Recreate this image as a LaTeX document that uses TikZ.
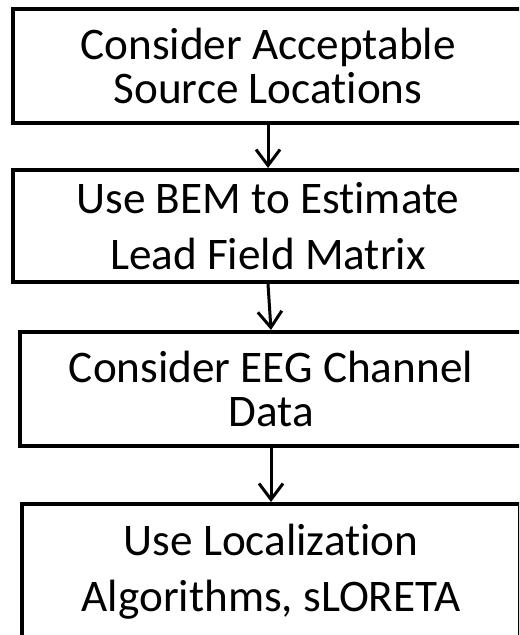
\documentclass[tikz,border=0pt]{standalone}
\usepackage{fontspec}
\setmainfont{Carlito}[Ligatures=NoCommon]
\usetikzlibrary{arrows.meta, positioning}

\begin{document}
\begin{tikzpicture}[
    x=0.5pt, y=-0.5pt,
    >={Straight Barb[length=8pt, width=12pt]},
    stepbox/.style={
        draw=black,
        line width=2pt,
        fill=white,
        align=center,
        inner sep=0pt,
        font=\fontsize{22.6}{22}\selectfont
    },
    flow/.style={
        draw=black,
        line width=1.5pt,
        ->
    }
]

\path[use as bounding box, clip] (0,0) rectangle (519,635);

% Boxes
\node[stepbox, minimum width=255pt, minimum height=57pt] (sources) at (268, 66)
    {Consider Acceptable\\Source Locations};
\node[stepbox, minimum width=255pt, minimum height=56pt] (bem) at (268, 226)
    {Use BEM to Estimate\\[6pt]Lead Field Matrix};
\node[stepbox, minimum width=251pt, minimum height=57pt] (eeg) at (271, 389)
    {Consider EEG Channel\\Data};
\node[stepbox, minimum width=249pt, minimum height=68pt] (sloreta) at (271, 572)
    {Use Localization\\[6pt]Algorithms, sLORETA};

% Arrows
\draw[flow] (sources.south) -- (bem.north);
\draw[flow] (bem.south) -- (eeg.north);
\draw[flow] (eeg.south) -- (sloreta.north);

\end{tikzpicture}
\end{document}
